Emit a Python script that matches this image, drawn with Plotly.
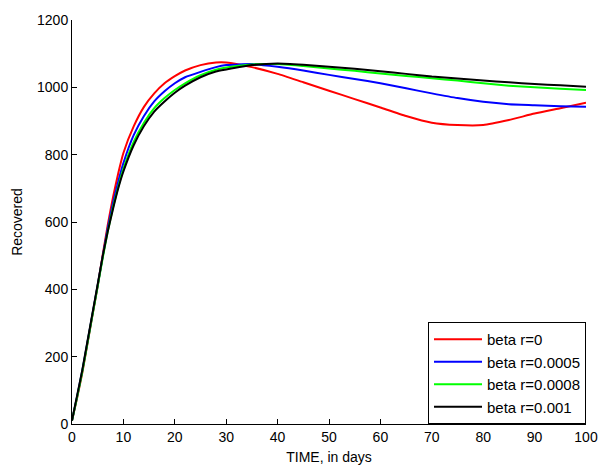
import plotly.graph_objects as go

days = [0, 1, 2, 3, 4, 5, 6, 7, 8, 9, 10, 12, 14, 16, 18, 20, 22, 25, 28, 30,
        35, 40, 45, 50, 55, 60, 65, 70, 75, 80, 85, 90, 95, 100]

red = [10, 78, 152, 238, 325, 410, 505, 595, 675, 745, 805, 884, 942, 982, 1012, 1033, 1050, 1066, 1074, 1074,
       1060, 1040, 1015, 990, 965, 940, 915, 895, 888, 888, 903, 922, 938, 954]
blue = [10, 82, 158, 242, 328, 412, 500, 585, 658, 720, 775, 858, 915, 958, 988, 1012, 1030, 1046, 1060, 1066,
        1069, 1061, 1050, 1037, 1025, 1012, 997, 982, 968, 957, 950, 947, 944, 942]
green = [10, 80, 155, 240, 325, 410, 495, 575, 645, 705, 758, 838, 895, 938, 968, 992, 1012, 1036, 1052, 1059,
         1068, 1069, 1063, 1056, 1049, 1041, 1034, 1027, 1020, 1012, 1005, 1000, 996, 992]
black = [10, 85, 160, 245, 330, 415, 500, 575, 640, 700, 750, 828, 885, 928, 958, 984, 1005, 1030, 1047, 1053,
         1066, 1071, 1067, 1061, 1055, 1048, 1040, 1032, 1026, 1020, 1015, 1010, 1006, 1002]

names = ["beta r=0", "beta r=0.0005", "beta r=0.0008", "beta r=0.001"]
series = [red, blue, green, black]
colors = ["#ff0000", "#0000ff", "#00ff00", "#000000"]

fig = go.Figure()
for nm, ys, c in zip(names, series, colors):
    fig.add_trace(go.Scatter(x=days, y=ys, mode="lines", name=nm,
                             line=dict(color=c, width=2, shape="spline", smoothing=0.5)))

font = "Liberation Sans, Arial, sans-serif"
fig.update_layout(
    width=598, height=465,
    margin=dict(l=72, r=12, t=20, b=41),
    paper_bgcolor="white", plot_bgcolor="white",
    font=dict(family=font, size=14, color="#000000"),
    showlegend=True,
    legend=dict(x=1, y=0, xanchor="right", yanchor="bottom",
                bordercolor="#000000", borderwidth=1, bgcolor="white",
                font=dict(size=15, family=font), itemwidth=48,
                tracegroupgap=0, yref="paper"),
    xaxis=dict(range=[0, 100], tickmode="linear", tick0=0, dtick=10,
               showgrid=False, zeroline=False, showline=True, linecolor="#000000", linewidth=1,
               ticks="inside", ticklen=5, tickcolor="#000000",
               title=dict(text="TIME, in days", standoff=10, font=dict(size=14)),
               automargin=False),
    yaxis=dict(range=[0, 1200], tickmode="linear", tick0=0, dtick=200,
               showgrid=False, zeroline=False, showline=True, linecolor="#000000", linewidth=1,
               ticks="inside", ticklen=5, tickcolor="#000000",
               title=dict(text="Recovered", standoff=11, font=dict(size=14)),
               automargin=False),
)

fig.write_html("out.html")
